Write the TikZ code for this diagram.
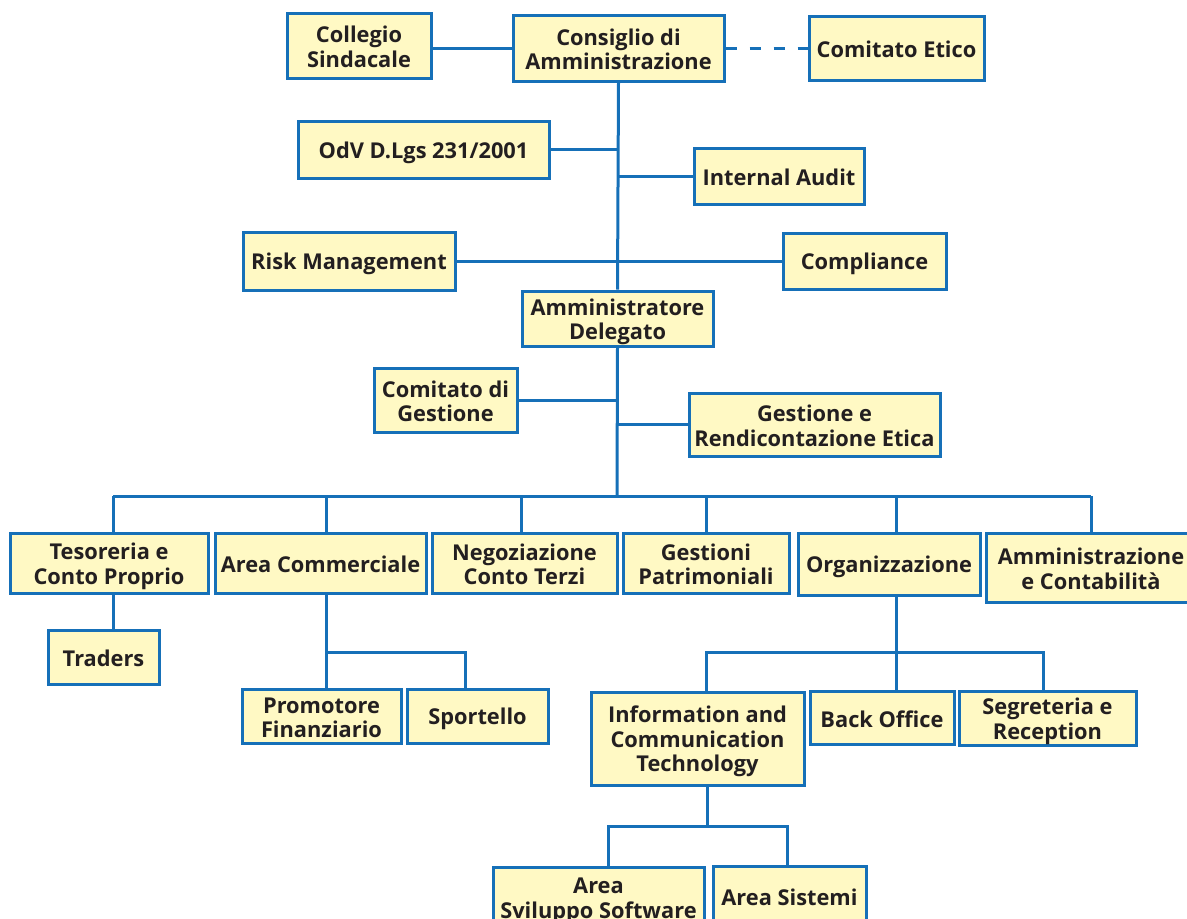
\documentclass[tikz,border=0pt]{standalone}
\usepackage{fontspec}
\setmainfont{Open Sans}
\usetikzlibrary{backgrounds}
\definecolor{lineblue}{RGB}{22,112,184}
\definecolor{boxfill}{RGB}{255,249,196}
\definecolor{txt}{RGB}{35,31,32}
\newcommand\topstrut{\rule{0pt}{23pt}}
\tikzset{
  box/.style={draw=lineblue, fill=boxfill, line width=3pt, align=center, inner xsep=1pt, inner ysep=0pt,
    text=txt, font=\fontsize{21.8}{24.5}\selectfont\bfseries,
    execute at begin node={\topstrut},
    execute at end node={\rule[-4pt]{0pt}{0pt}}},
  conn/.style={draw=lineblue, line width=3pt},
}
\begin{document}
\begin{tikzpicture}[x=1pt,y=-1pt]
\useasboundingbox (0,0) rectangle (1187,919);
\clip (0,0) rectangle (1187,919);
% top level
\node[box, minimum width=144, minimum height=65] (coll) at (359,45.5) {\topstrut Collegio\\Sindacale};
\node[box, minimum width=211, minimum height=66] (cons) at (618.5,48) {\topstrut Consiglio di\\Amministrazione};
\node[box, minimum width=175, minimum height=64] (etico) at (896.5,48) {Comitato Etico};
\node[box, minimum width=251, minimum height=57] (odv) at (423.5,149.5) {OdV D.Lgs 231/2001};
\node[box, minimum width=170, minimum height=56] (audit) at (779,176) {Internal Audit};
\node[box, minimum width=212, minimum height=58] (risk) at (349,261) {Risk Management};
\node[box, minimum width=163, minimum height=56] (compl) at (864.5,261) {Compliance};
\node[box, minimum width=191, minimum height=55] (ad) at (617.5,318.5) {\topstrut Amministratore\\Delegato};
\node[box, minimum width=143, minimum height=64] (cdg) at (445.5,400) {\topstrut Comitato di\\Gestione};
\node[box, minimum width=251, minimum height=63] (ger) at (814.5,424.5) {\topstrut Gestione e\\Rendicontazione Etica};
% second level
\node[box, minimum width=198, minimum height=60] (teso) at (109,563) {\topstrut Tesoreria e\\Conto Proprio};
\node[box, minimum width=211, minimum height=60] (areac) at (320.5,563) {Area Commerciale};
\node[box, minimum width=185, minimum height=60] (negoz) at (524.5,563) {\topstrut Negoziazione\\Conto Terzi};
\node[box, minimum width=166, minimum height=60] (gest) at (706,563) {\topstrut Gestioni\\Patrimoniali};
\node[box, minimum width=182, minimum height=62] (org) at (889,564) {Organizzazione};
\node[box, minimum width=210, minimum height=69] (amm) at (1091,567.5) {\topstrut Amministrazione\\e Contabilità};
% third level
\node[box, minimum width=111, minimum height=54] (traders) at (103.5,657) {Traders};
\node[box, minimum width=159, minimum height=54] (prom) at (321.5,716) {\topstrut Promotore\\Finanziario};
\node[box, minimum width=141, minimum height=54] (sport) at (477.5,716) {Sportello};
\node[box, minimum width=213, minimum height=93] (ict) at (697.5,738.5) {\topstrut Information and\\Communication\\Technology};
\node[box, minimum width=144, minimum height=53] (bo) at (882,717.5) {Back Office};
\node[box, minimum width=177, minimum height=54] (segr) at (1047.5,718) {\topstrut Segreteria e\\Reception};
\node[box, minimum width=211, minimum height=60] (asw) at (598.5,897) {\topstrut Area\\Sviluppo Software};
\node[box, minimum width=153, minimum height=60] (asis) at (789.5,896) {Area Sistemi};
% coordinates
\coordinate (bus) at (617,496);
\coordinate (d1) at (113,496);
\coordinate (d2) at (326,496);
\coordinate (d3) at (521,496);
\coordinate (d4) at (706,496);
\coordinate (d5) at (896,496);
\coordinate (d6) at (1091,496);
\coordinate (acb) at (326,652);
\coordinate (spb) at (465,652);
\coordinate (orb) at (896,652);
\coordinate (icb) at (706,652);
\coordinate (seb) at (1043,652);
\coordinate (itb) at (707,826);
\coordinate (swb) at (608,826);
\coordinate (sib) at (787,826);
\begin{scope}[on background layer]
  \draw[conn] (coll.east |- cons.west) -- (cons.west);
  \draw[conn, dash pattern=on 11pt off 13pt] (cons.east) -- (etico.west);
  \draw[conn] (cons.south) -- (ad.north);
  \draw[conn] (ad.south) -- (bus);
  \draw[conn] (odv.east) -- (odv.east -| cons.south);
  \draw[conn] (audit.west) -- (audit.west -| cons.south);
  \draw[conn] (risk.east) -- (compl.west);
  \draw[conn] (cdg.east) -- (cdg.east -| ad.south);
  \draw[conn] (ger.west) -- (ger.west -| ad.south);
  \draw[conn] (d1) -- (d6);
  \draw[conn] (d1) -- (d1 |- teso.north);
  \draw[conn] (d2) -- (d2 |- areac.north);
  \draw[conn] (d3) -- (d3 |- negoz.north);
  \draw[conn] (d4) -- (d4 |- gest.north);
  \draw[conn] (d5) -- (d5 |- org.north);
  \draw[conn] (d6) -- (d6 |- amm.north);
  \draw[conn] (d1 |- teso.south) -- (d1 |- traders.north);
  \draw[conn] (acb |- areac.south) -- (acb) -- (spb) -- (spb |- sport.north);
  \draw[conn] (acb) -- (acb |- prom.north);
  \draw[conn] (orb |- org.south) -- (orb |- bo.north);
  \draw[conn] (icb |- ict.north) -- (icb) -- (seb) -- (seb |- segr.north);
  \draw[conn] (itb |- ict.south) -- (itb);
  \draw[conn] (swb |- asw.north) -- (swb) -- (sib) -- (sib |- asis.north);
\end{scope}
\end{tikzpicture}
\end{document}
